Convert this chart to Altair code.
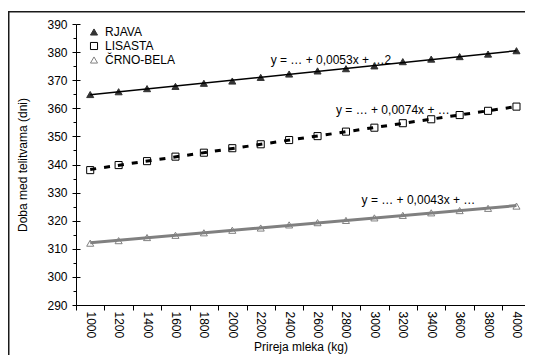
import altair as alt
import pandas as pd

prireja = [1000, 1200, 1400, 1600, 1800, 2000, 2200, 2400, 2600, 2800, 3000, 3200, 3400, 3600, 3800, 4000]
rjava = [364.9, 365.9, 367.0, 367.8, 368.9, 369.7, 371.0, 372.2, 373.3, 374.1, 375.1, 376.6, 377.5, 378.4, 379.3, 380.5]
lisasta = [338.0, 339.8, 341.2, 342.8, 344.2, 345.8, 347.2, 348.7, 350.1, 351.7, 353.1, 354.7, 356.1, 357.6, 359.1, 360.6]
crno = [312.0, 312.9, 314.0, 314.8, 315.7, 316.6, 317.4, 318.5, 319.3, 320.1, 321.0, 321.9, 322.8, 323.6, 324.4, 325.2]
series = ["RJAVA", "LISASTA", "ČRNO-BELA"]

equations = ["y = … + 0,0053x + …2", "y = … + 0,0074x + …", "y = … + 0,0043x + …"]
eq_x = [2270, 2730, 2910]
eq_y = [377.2, 359.4, 327.4]

y_major = list(range(290, 391, 10))
y_minor = list(range(295, 390, 10))
x_bounds = list(range(900, 4001, 200))

rows = []
for name, vals in zip(series, [rjava, lisasta, crno]):
    for x, v in zip(prireja, vals):
        rows.append({"pasma": name, "prireja": x, "dni": v})
df = pd.DataFrame(rows)
eq_df = pd.DataFrame({"txt": equations, "prireja": eq_x, "dni": eq_y})

FONT = "Liberation Sans"
xscale = alt.Scale(domain=[900, 4060], nice=False, zero=False)
yscale = alt.Scale(domain=[290, 390], nice=False, zero=False)

legend = alt.Legend(title=None, orient="none", legendX=12, legendY=2, symbolSize=50,
                    labelFont=FONT, labelFontSize=12, labelColor="black", rowPadding=2,
                    padding=0, labelOffset=5, symbolStrokeWidth=1)

points = alt.Chart(df).mark_point(size=50, opacity=1, strokeWidth=1).encode(
    x=alt.X("prireja:Q", scale=xscale,
            axis=alt.Axis(orient="bottom", values=prireja, format="d", labelAngle=90, ticks=False, tickSize=0,
                          labelPadding=6, title="Prireja mleka (kg)", titlePadding=4)),
    y=alt.Y("dni:Q", scale=yscale,
            axis=alt.Axis(orient="left", values=y_major, tickSize=4, labelPadding=5,
                          title="Doba med telitvama (dni)", titlePadding=17)),
    shape=alt.Shape("pasma:N", scale=alt.Scale(domain=series, range=["triangle-up", "square", "triangle-up"]), legend=legend),
    fill=alt.Fill("pasma:N", scale=alt.Scale(domain=series, range=["#333333", "#ffffff", "#ffffff"]), legend=legend),
    stroke=alt.Stroke("pasma:N", scale=alt.Scale(domain=series, range=["#333333", "#000000", "#808080"]), legend=legend),
)


def trend(name, xaxis, yaxis, **kw):
    return alt.Chart(df).transform_filter(alt.datum.pasma == name).transform_regression(
        "prireja", "dni").mark_line(**kw).encode(
        x=alt.X("prireja:Q", scale=xscale, axis=xaxis),
        y=alt.Y("dni:Q", scale=yscale, axis=yaxis),
    )


l1 = trend("RJAVA", None,
           alt.Axis(orient="left", offset=-4, values=y_major, tickSize=4, labels=False, domain=False, title=None),
           color="black", strokeWidth=1.5)
l2 = trend("LISASTA",
           alt.Axis(orient="bottom", values=x_bounds, tickSize=5, labels=False, domain=False, title=None),
           None, color="black", strokeWidth=3, strokeDash=[6, 8])
l3 = trend("ČRNO-BELA", None,
           alt.Axis(orient="left", values=y_minor, tickSize=3, labels=False, domain=False, title=None),
           color="#808080", strokeWidth=3)

texts = alt.Chart(eq_df).mark_text(align="left", baseline="middle", font=FONT, fontSize=12, color="black").encode(
    x=alt.X("prireja:Q", scale=xscale, axis=None),
    y=alt.Y("dni:Q", scale=yscale, axis=None),
    text="txt:N",
)

frame = alt.Chart(pd.DataFrame({"k": [0]})).mark_rect(fill="white", fillOpacity=0, stroke="#1a1a1a", strokeWidth=1.5).encode(
    x=alt.value(-67.25), x2=alt.value(700), y=alt.value(-12.25), y2=alt.value(500)
)

chart = alt.layer(frame, texts, points, l1, l2, l3).resolve_axis(
    x="independent", y="independent"
).properties(
    width=449, height=281,
    autosize=alt.AutoSizeParams(type="none"),
    padding={"left": 68, "top": 16, "right": 0, "bottom": 50},
).configure_view(strokeWidth=0).configure_axis(
    labelFont=FONT, titleFont=FONT, labelFontSize=12, titleFontSize=12,
    labelColor="black", titleColor="black", domainColor="black", tickColor="black",
    grid=False, titleFontWeight="normal",
)

chart.save("out.html", embed_options={"renderer": "svg", "actions": False})
